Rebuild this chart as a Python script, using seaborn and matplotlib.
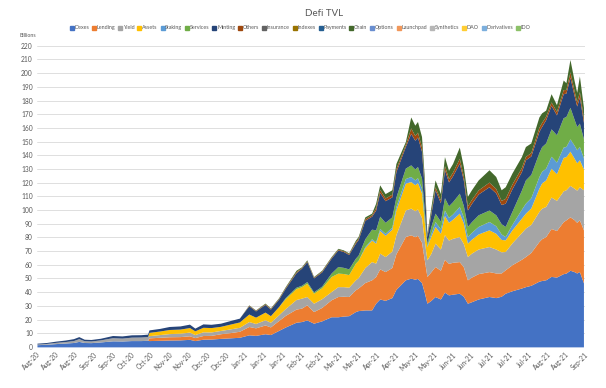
import pandas as pd
import numpy as np
import matplotlib
matplotlib.use('Agg')
import matplotlib.pyplot as plt
from matplotlib.lines import Line2D
import seaborn as sns

# 日付 (チャートから読み取り)
dates = ["2020-08-01", "2020-08-08", "2020-08-15", "2020-08-22", "2020-08-28", "2020-09-01",
         "2020-09-05", "2020-09-10", "2020-09-17", "2020-09-26", "2020-10-03", "2020-10-10",
         "2020-10-17", "2020-10-22", "2020-10-23", "2020-10-31", "2020-11-07", "2020-11-15",
         "2020-11-22", "2020-11-26", "2020-12-02", "2020-12-08", "2020-12-15", "2020-12-22",
         "2020-12-29", "2021-01-05", "2021-01-10", "2021-01-17", "2021-01-21", "2021-01-27",
         "2021-02-01", "2021-02-09", "2021-02-13", "2021-02-17", "2021-02-22", "2021-02-28",
         "2021-03-07", "2021-03-12", "2021-03-16", "2021-03-20", "2021-03-25", "2021-03-27",
         "2021-04-01", "2021-04-06", "2021-04-09", "2021-04-12", "2021-04-16", "2021-04-21",
         "2021-04-24", "2021-05-01", "2021-05-05", "2021-05-08", "2021-05-10", "2021-05-13",
         "2021-05-15", "2021-05-17", "2021-05-20", "2021-05-23", "2021-05-27", "2021-05-30",
         "2021-06-02", "2021-06-05", "2021-06-10", "2021-06-13", "2021-06-16", "2021-06-19",
         "2021-06-24", "2021-07-02", "2021-07-07", "2021-07-11", "2021-07-14", "2021-07-19",
         "2021-07-26", "2021-07-29", "2021-08-02", "2021-08-08", "2021-08-10", "2021-08-13",
         "2021-08-17", "2021-08-21", "2021-08-26", "2021-08-28", "2021-08-31", "2021-09-03",
         "2021-09-05", "2021-09-07", "2021-09-10"]

# 各カテゴリのTVL (billions)
dexes = [1.6, 1.9, 2.4, 2.8, 3.2, 4.0, 3.2, 3.1, 3.6, 4.4, 4.3, 4.6, 4.6, 4.8, 4.6, 4.8, 5.0, 5.1,
         5.5, 4.6, 5.6, 5.7, 6.2, 6.6, 7.0, 8.8, 8.4, 9.6, 9.0, 12.0, 14.5, 18.0, 18.5, 19.7, 17.3, 19.0,
         22.0, 22.0, 22.5, 22.8, 25.8, 26.5, 27.0, 27.0, 31.9, 35.0, 34.0, 36.0, 42.0, 49.0, 50.2, 49.5,
         50.0, 47.0, 40.0, 31.9, 34.0, 36.8, 35.0, 40.0, 38.0, 38.5, 39.2, 37.0, 31.9, 33.0, 35.0, 36.8,
         36.0, 37.0, 39.2, 41.0, 43.0, 44.0, 45.0, 48.0, 48.5, 49.0, 51.5, 51.0, 53.5, 53.9, 56.0, 55.0,
         54.0, 55.0, 46.8]
lending = [0, 0, 0, 0, 0, 0, 0, 0, 0, 0, 0, 0, 0, 0, 2.0, 2.2, 2.4, 2.4,
           2.6, 2.2, 2.7, 2.7, 3.4, 3.8, 4.4, 6.1, 5.5, 6.4, 5.6, 7.2, 8.5, 9.6, 9.8, 11.0, 8.5, 9.8,
           12.4, 14.8, 14.5, 14.0, 15.9, 16.5, 20.0, 22.0, 19.5, 22.0, 21.0, 22.0, 26.0, 31.6, 31.7, 31.0,
           31.5, 29.5, 24.0, 19.5, 21.0, 21.9, 21.0, 24.0, 23.0, 23.3, 23.1, 21.5, 17.1, 18.0, 18.5, 18.2,
           18.0, 17.0, 17.1, 19.0, 21.0, 22.0, 24.0, 29.0, 30.5, 31.6, 35.0, 34.0, 38.0, 38.9, 39.0, 38.0,
           37.0, 37.8, 38.7]
yield_ = [0.5, 0.6, 0.9, 1.1, 1.4, 2.0, 1.3, 1.2, 1.5, 2.3, 2.1, 2.5, 2.6, 2.7, 1.6, 2.0, 2.3, 2.5,
          2.7, 2.2, 2.7, 2.5, 2.4, 2.7, 2.9, 3.6, 3.2, 3.8, 3.4, 4.2, 5.0, 7.0, 7.3, 6.1, 6.1, 6.4,
          6.0, 7.2, 7.0, 6.8, 7.3, 7.6, 11.0, 13.3, 9.8, 11.5, 11.0, 12.0, 14.0, 19.4, 19.5, 19.0,
          19.3, 18.0, 14.0, 12.2, 13.5, 17.1, 15.5, 18.0, 17.0, 17.5, 18.3, 17.0, 17.0, 17.5, 18.0, 18.3,
          17.5, 15.5, 13.4, 16.0, 19.5, 20.8, 20.5, 22.0, 22.3, 22.0, 23.0, 22.0, 22.5, 22.0, 23.0, 23.0,
          23.5, 24.2, 29.3]
assets = [0, 0, 0, 0, 0, 0, 0, 0, 0, 0, 0, 0, 0, 0, 2.4, 2.6, 3.0, 3.0,
          3.3, 2.7, 3.3, 3.2, 3.0, 3.5, 3.9, 5.5, 4.6, 5.6, 4.8, 6.0, 7.2, 8.0, 8.4, 9.7, 7.3, 8.0,
          11.0, 9.9, 9.6, 9.2, 12.2, 12.6, 14.5, 15.7, 14.6, 16.5, 15.5, 16.0, 18.0, 19.6, 19.4, 19.0,
          19.2, 18.0, 14.0, 9.7, 12.5, 12.2, 11.5, 14.0, 13.0, 14.0, 17.1, 15.0, 9.8, 10.2, 11.0, 12.2,
          11.5, 9.0, 8.5, 9.5, 10.5, 10.9, 12.0, 17.0, 18.5, 19.4, 21.0, 19.5, 24.5, 24.2, 25.0, 22.0,
          20.0, 19.7, 15.2]
staking = [0, 0, 0, 0, 0, 0, 0, 0, 0, 0, 0, 0, 0, 0, 0, 0, 0, 0,
           0, 0, 0, 0, 0, 0, 0, 0, 0, 0, 0, 0, 0, 0, 0, 0, 0, 0,
           0, 0, 0, 0, 0, 0, 0.8, 1.0, 1.0, 1.5, 1.5, 1.5, 2.5, 3.4, 3.7, 3.5,
           3.6, 3.3, 2.5, 0.8, 2.2, 3.6, 3.2, 4.0, 3.6, 3.8, 4.9, 4.3, 4.8, 5.0, 5.5, 6.1,
           5.5, 4.0, 2.4, 4.0, 6.5, 7.3, 7.5, 8.5, 8.5, 8.6, 8.8, 8.5, 7.5, 7.4, 9.0, 9.5,
           9.5, 9.7, 8.0]
services = [0, 0, 0, 0, 0, 0, 0, 0, 0, 0, 0, 0, 0, 0, 0, 0, 0, 0,
            0, 0, 0, 0, 0, 0, 0, 0, 0, 0, 0, 0, 0.8, 1.0, 1.0, 1.2, 1.0, 1.2,
            2.5, 4.8, 4.5, 4.2, 3.6, 3.8, 5.7, 7.0, 8.7, 9.0, 8.0, 7.5, 7.0, 7.6, 8.5, 8.0,
            8.2, 7.6, 6.0, 1.7, 5.0, 6.1, 5.6, 9.0, 8.5, 9.0, 9.7, 8.5, 7.4, 7.8, 8.5, 8.4,
            8.0, 7.5, 7.4, 9.5, 14.0, 17.0, 17.0, 17.5, 18.0, 18.4, 20.0, 20.0, 21.5, 21.9, 23.0, 19.0,
            17.0, 17.1, 14.0]
minting = [0.6, 0.7, 0.9, 1.1, 1.4, 1.5, 1.1, 1.1, 1.2, 1.6, 1.6, 1.7, 1.7, 1.8, 1.8, 1.9, 2.2, 2.3,
           2.5, 2.0, 2.5, 2.4, 2.3, 2.6, 2.8, 6.0, 4.6, 5.6, 4.8, 5.4, 6.8, 10.6, 12.5, 14.6, 10.2, 10.4,
           10.9, 12.1, 11.6, 10.5, 11.0, 11.4, 13.5, 9.5, 14.5, 17.4, 15.8, 14.6, 18.5, 15.8, 23.0, 21.0,
           21.5, 19.5, 16.0, 4.8, 9.4, 17.1, 13.5, 20.5, 17.4, 18.9, 22.0, 18.5, 12.0, 13.3, 15.2, 17.0,
           16.0, 14.0, 17.0, 16.5, 13.5, 14.7, 13.5, 15.5, 14.7, 17.0, 17.2, 14.5, 17.5, 17.1, 22.0, 17.5,
           15.0, 19.0, 12.0]
others = [0, 0, 0, 0, 0, 0, 0, 0, 0, 0, 0, 0, 0, 0, 0, 0, 0, 0,
          0, 0, 0, 0, 0, 0, 0, 0.4, 0.4, 0.5, 0.5, 0.5, 0.6, 0.8, 0.5, 0.6, 0.5, 0.6,
          0.6, 0.6, 0.6, 0.6, 1.0, 1.0, 1.2, 1.0, 2.0, 2.2, 2.0, 2.0, 2.2, 1.6, 4.0, 3.5,
          3.6, 3.3, 2.5, 0.8, 1.5, 2.2, 2.0, 3.0, 2.5, 2.7, 3.5, 3.0, 3.0, 3.0, 3.0, 3.4,
          3.2, 3.0, 3.5, 3.5, 3.0, 2.5, 2.5, 3.0, 3.0, 2.5, 2.5, 2.5, 3.0, 2.6, 4.0, 3.5,
          3.0, 4.0, 3.0]
chain = [0, 0, 0, 0, 0, 0, 0, 0, 0, 0, 0, 0, 0, 0, 0, 0, 0, 0,
         0, 0, 0, 0, 0, 0, 0, 0.3, 0.3, 0.5, 0.4, 0.5, 0.6, 1.0, 0.5, 0.7, 0.5, 0.6,
         0.6, 0.6, 0.6, 0.6, 1.2, 1.2, 1.3, 1.2, 3.0, 3.3, 3.2, 3.2, 3.8, 2.0, 8.0, 7.5,
         7.8, 7.5, 5.5, 1.6, 3.5, 5.0, 4.7, 6.5, 6.0, 6.3, 8.2, 7.0, 7.0, 7.0, 7.3, 9.0,
         8.8, 7.8, 8.5, 8.0, 8.0, 7.2, 7.0, 7.5, 7.0, 4.5, 6.0, 5.0, 7.0, 5.0, 9.0, 7.5,
         7.0, 11.5, 8.0]

# 凡例の全カテゴリ (Insurance 以降の細い系列は図から読めないので凡例のみ)
categories = ['Dexes', 'Lending', 'Yield', 'Assets', 'Staking', 'Services', 'Minting', 'Others',
              'Insurance', 'Indexes', 'Payments', 'Chain', 'Options', 'Launchpad', 'Synthetics',
              'DAO', 'Derivatives', 'IDO']
colors = ['#4472C4', '#ED7D31', '#A5A5A5', '#FFC000', '#5B9BD5', '#70AD47', '#264478', '#9E480E',
          '#636363', '#997300', '#255E91', '#43682B', '#698ED0', '#F1975A', '#B7B7B7', '#FFCD33',
          '#7CAFDD', '#8CC168']
color_map = dict(zip(categories, colors))

df = pd.DataFrame({
    'Dexes': dexes, 'Lending': lending, 'Yield': yield_, 'Assets': assets,
    'Staking': staking, 'Services': services, 'Minting': minting, 'Others': others,
    'Chain': chain,
}, index=pd.to_datetime(dates))

sns.set_theme(style='white')
plt.rcParams['font.family'] = ['Lato', 'DejaVu Sans']
text_grey = '#595959'

fig = plt.figure(figsize=(6.06, 3.88), dpi=100)
ax = fig.add_axes([0.061, 0.106, 0.904, 0.776])

ax.stackplot(df.index, [df[c].values for c in df.columns],
             colors=[color_map[c] for c in df.columns], linewidth=0)

ax.set_ylim(0, 220)
ax.set_yticks(np.arange(0, 221, 10))
ax.set_xlim(pd.Timestamp('2020-08-01'), pd.Timestamp('2021-09-10'))
ticks = pd.date_range('2020-08-01', periods=30, freq='14D')
ax.set_xticks(ticks)
ax.set_xticklabels([t.strftime('%b-%y') for t in ticks], rotation=45, ha='right',
                   rotation_mode='anchor')
ax.tick_params(axis='both', labelsize=4.8, colors=text_grey, length=0, pad=3)
ax.grid(axis='y', color='#D9D9D9', linewidth=0.6)
ax.set_axisbelow(True)
for s in ax.spines.values():
    s.set_visible(False)

fig.text(0.535, 0.965, 'Defi TVL', ha='center', va='center', fontsize=7, color=text_grey)
fig.text(0.033, 0.908, 'Billions', ha='left', va='center', fontsize=3.8, color=text_grey)

handles = [Line2D([], [], marker='s', linestyle='', markersize=2.5, color=color_map[c])
           for c in categories]
fig.legend(handles, categories, loc='center', bbox_to_anchor=(0.495, 0.928), ncol=18,
           frameon=False, fontsize=3.9, handletextpad=0.1, columnspacing=0.5,
           handlelength=0.8, labelcolor=text_grey)

plt.savefig('out.png', dpi=100, facecolor='white')
